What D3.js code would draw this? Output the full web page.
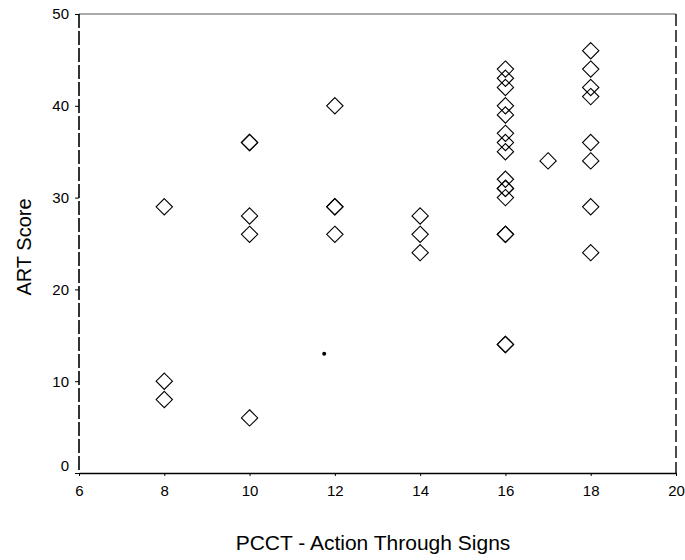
<!DOCTYPE html>
<html>
<head>
<meta charset="utf-8">
<script src="https://cdn.jsdelivr.net/npm/d3@7"></script>
<style>
  body { margin: 0; background: #fff; }
  svg text { font-family: "Liberation Sans", Arial, sans-serif; fill: #000; }
</style>
</head>
<body>
<svg id="chart" width="685" height="560"></svg>
<script>
// PCCT score (x) and ART score (y), one entry per subject
const pcct = [8, 8, 8,
  10, 10, 10, 10, 10,
  12, 12, 12, 12,
  14, 14, 14,
  16, 16, 16, 16, 16, 16, 16, 16, 16, 16, 16, 16, 16, 16, 16, 16,
  17,
  18, 18, 18, 18, 18, 18, 18, 18];
const art = [29, 10, 8,
  36, 36, 28, 26, 6,
  40, 29, 29, 26,
  28, 26, 24,
  44, 43, 42, 40, 39, 37, 36, 35, 32, 31, 31, 30, 26, 26, 14, 14,
  34,
  46, 44, 42, 41, 36, 34, 29, 24];

// stray dot in the scan
const strayX = [11.75];
const strayY = [13];

const xTicks = [6, 8, 10, 12, 14, 16, 18, 20];
const yTicks = [0, 10, 20, 30, 40, 50];

const svg = d3.select('#chart');
const plotLeft = 79, plotRight = 676, plotTop = 14, plotBottom = 473;

const x = d3.scaleLinear().domain([6, 20]).range([plotLeft, plotRight]);
const y = d3.scaleLinear().domain([0, 50]).range([plotBottom, plotTop]);

const points = art.map((v, i) => ({ x: pcct[i], y: v }));

// frame
svg.append('line').attr('x1', plotLeft).attr('x2', plotRight).attr('y1', plotTop).attr('y2', plotTop)
  .attr('stroke', '#555').attr('stroke-width', 1);
svg.append('line').attr('x1', plotLeft).attr('x2', plotLeft).attr('y1', plotTop).attr('y2', plotBottom)
  .attr('stroke', '#000').attr('stroke-width', 1.6).attr('stroke-dasharray', '14,3');
svg.append('line').attr('x1', plotRight).attr('x2', plotRight).attr('y1', plotTop).attr('y2', plotBottom)
  .attr('stroke', '#000').attr('stroke-width', 1.4).attr('stroke-dasharray', '12,4');

// axes
const xAxis = svg.append('g')
  .attr('transform', `translate(0,${plotBottom})`)
  .call(d3.axisBottom(x).tickValues(xTicks).tickSize(3).tickPadding(9).tickSizeOuter(0));
const yAxis = svg.append('g')
  .attr('transform', `translate(${plotLeft},0)`)
  .call(d3.axisLeft(y).tickValues(yTicks).tickSize(4).tickPadding(6).tickSizeOuter(0));

xAxis.select('.domain').attr('stroke', '#000').attr('stroke-width', 1.6);
yAxis.select('.domain').remove();
[xAxis, yAxis].forEach(a => {
  a.selectAll('.tick line').attr('stroke', '#000');
  a.selectAll('.tick text').attr('font-size', 15)
    .style('font-family', '"Liberation Sans", Arial, sans-serif');
});
// zero label sits a little above the axis line in the original
yAxis.selectAll('.tick text').filter(d => d === 0).attr('dy', '-0.2em');

// diamonds
const diamond = d3.symbol().type(d3.symbolDiamond2).size(170);
svg.append('g').selectAll('path')
  .data(points)
  .join('path')
  .attr('d', diamond)
  .attr('transform', d => `translate(${x(d.x)},${y(d.y)})`)
  .attr('fill', 'none')
  .attr('stroke', '#000')
  .attr('stroke-width', 1.1);

svg.append('g').selectAll('circle')
  .data(strayX.map((v, i) => ({ x: v, y: strayY[i] })))
  .join('circle')
  .attr('cx', d => x(d.x))
  .attr('cy', d => y(d.y))
  .attr('r', 2)
  .attr('fill', '#000');

// titles
svg.append('text')
  .attr('x', 373).attr('y', 550)
  .attr('text-anchor', 'middle')
  .attr('font-size', 21)
  .text('PCCT - Action Through Signs');

svg.append('text')
  .attr('transform', 'translate(31,247) rotate(-90)')
  .attr('text-anchor', 'middle')
  .attr('font-size', 20)
  .text('ART Score');
</script>
</body>
</html>
